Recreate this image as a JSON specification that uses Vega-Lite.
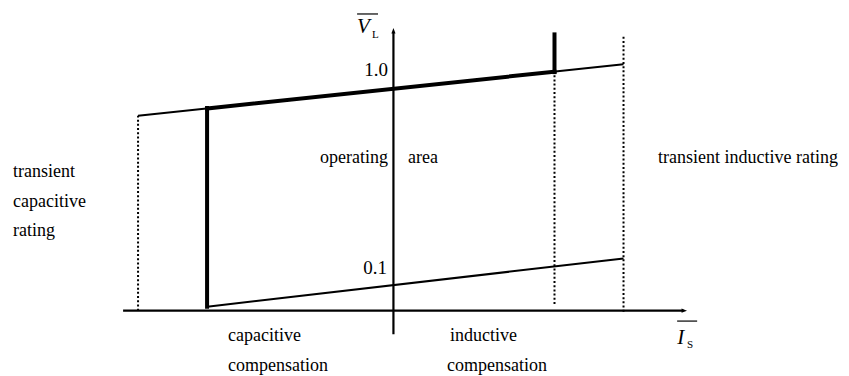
{
  "$schema": "https://vega.github.io/schema/vega-lite/v6.json",
  "width": 849,
  "height": 376,
  "autosize": {"type": "fit", "contains": "padding"},
  "padding": 0,
  "background": "white",
  "config": {"view": {"stroke": null}, "text": {"font": "Times New Roman, Liberation Serif, serif"}},
  "datasets": {
    "thinLines": [
      {"part": "upper voltage limit", "x": -1.11, "y": 0.878, "x2": 1.0, "y2": 1.11},
      {"part": "lower voltage limit", "x": -0.81, "y": 0.018, "x2": 1.0, "y2": 0.235}
    ],
    "boundary": [
      {"part": "upper edge", "x": -0.81, "y": 0.911, "x2": 0.70, "y2": 1.077},
      {"part": "capacitive limit", "x": -0.81, "y": 0.018, "x2": -0.81, "y2": 0.913},
      {"part": "inductive limit", "x": 0.70, "y": 1.075, "x2": 0.70, "y2": 1.245}
    ],
    "dotted": [
      {"part": "transient capacitive", "x": -1.11, "y": 0.0, "x2": -1.11, "y2": 0.878},
      {"part": "continuous inductive", "x": 0.70, "y": 0.03, "x2": 0.70, "y2": 1.077},
      {"part": "transient inductive", "x": 1.0, "y": -0.005, "x2": 1.0, "y2": 1.245}
    ],
    "axes": [
      {"part": "current axis", "x": -1.175, "y": 0.0, "x2": 1.26, "y2": 0.0},
      {"part": "voltage axis", "x": 0.0, "y": -0.106, "x2": 0.0, "y2": 1.255}
    ],
    "overbars": [
      {"part": "V bar", "x": -0.158, "y": 1.337, "x2": -0.067, "y2": 1.337},
      {"part": "I bar", "x": 1.233, "y": -0.047, "x2": 1.32, "y2": -0.047}
    ],
    "arrowRight": [{"x": 1.276, "y": 0.0}],
    "arrowUp": [{"x": 0.0, "y": 1.274}],
    "symbols": [
      {"label": "V", "x": -0.158, "y": 1.252},
      {"label": "I", "x": 1.233, "y": -0.151}
    ],
    "subscripts": [
      {"label": "L", "x": -0.093, "y": 1.229},
      {"label": "S", "x": 1.276, "y": -0.169}
    ],
    "ticks": [
      {"label": "1.0", "x": -0.0235, "y": 1.085},
      {"label": "0.1", "x": -0.028, "y": 0.191}
    ],
    "notes": [
      {"label": "operating", "x": -0.319, "y": 0.69},
      {"label": "area", "x": 0.063, "y": 0.69},
      {"label": "transient inductive rating", "x": 1.15, "y": 0.69},
      {"label": "transient", "x": -1.653, "y": 0.627},
      {"label": "capacitive", "x": -1.653, "y": 0.488},
      {"label": "rating", "x": -1.653, "y": 0.357},
      {"label": "capacitive", "x": -0.719, "y": -0.115},
      {"label": "compensation", "x": -0.719, "y": -0.25},
      {"label": "inductive", "x": 0.246, "y": -0.115},
      {"label": "compensation", "x": 0.233, "y": -0.25}
    ]
  },
  "layer": [
    {
      "data": {"name": "dotted"},
      "mark": {"type": "rule", "color": "black", "strokeWidth": 2, "strokeDash": [2, 2.2]},
      "encoding": {
        "x": {"field": "x", "type": "quantitative", "scale": {"domain": [-1.71, 1.98], "nice": false, "zero": false}, "axis": null},
        "y": {"field": "y", "type": "quantitative", "scale": {"domain": [-0.29, 1.4], "nice": false, "zero": false}, "axis": null},
        "x2": {"field": "x2"},
        "y2": {"field": "y2"}
      }
    },
    {
      "data": {"name": "thinLines"},
      "mark": {"type": "rule", "color": "black", "strokeWidth": 2},
      "encoding": {
        "x": {"field": "x", "type": "quantitative", "scale": {"domain": [-1.71, 1.98], "nice": false, "zero": false}, "axis": null},
        "y": {"field": "y", "type": "quantitative", "scale": {"domain": [-0.29, 1.4], "nice": false, "zero": false}, "axis": null},
        "x2": {"field": "x2"},
        "y2": {"field": "y2"}
      }
    },
    {
      "data": {"name": "axes"},
      "mark": {"type": "rule", "color": "black", "strokeWidth": 2.2},
      "encoding": {
        "x": {"field": "x", "type": "quantitative", "scale": {"domain": [-1.71, 1.98], "nice": false, "zero": false}, "axis": null},
        "y": {"field": "y", "type": "quantitative", "scale": {"domain": [-0.29, 1.4], "nice": false, "zero": false}, "axis": null},
        "x2": {"field": "x2"},
        "y2": {"field": "y2"}
      }
    },
    {
      "data": {"name": "boundary"},
      "mark": {"type": "rule", "color": "black", "strokeWidth": 4, "strokeCap": "square"},
      "encoding": {
        "x": {"field": "x", "type": "quantitative", "scale": {"domain": [-1.71, 1.98], "nice": false, "zero": false}, "axis": null},
        "y": {"field": "y", "type": "quantitative", "scale": {"domain": [-0.29, 1.4], "nice": false, "zero": false}, "axis": null},
        "x2": {"field": "x2"},
        "y2": {"field": "y2"}
      }
    },
    {
      "data": {"name": "overbars"},
      "mark": {"type": "rule", "color": "black", "strokeWidth": 1.2},
      "encoding": {
        "x": {"field": "x", "type": "quantitative", "scale": {"domain": [-1.71, 1.98], "nice": false, "zero": false}, "axis": null},
        "y": {"field": "y", "type": "quantitative", "scale": {"domain": [-0.29, 1.4], "nice": false, "zero": false}, "axis": null},
        "x2": {"field": "x2"},
        "y2": {"field": "y2"}
      }
    },
    {
      "data": {"name": "arrowRight"},
      "mark": {"type": "point", "filled": true, "color": "black", "opacity": 1, "size": 30, "shape": "M 0 0 L -2 -0.75 L -2 0.75 Z"},
      "encoding": {
        "x": {"field": "x", "type": "quantitative", "scale": {"domain": [-1.71, 1.98], "nice": false, "zero": false}, "axis": null},
        "y": {"field": "y", "type": "quantitative", "scale": {"domain": [-0.29, 1.4], "nice": false, "zero": false}, "axis": null}
      }
    },
    {
      "data": {"name": "arrowUp"},
      "mark": {"type": "point", "filled": true, "color": "black", "opacity": 1, "size": 30, "shape": "M 0 0 L -0.75 2 L 0.75 2 Z"},
      "encoding": {
        "x": {"field": "x", "type": "quantitative", "scale": {"domain": [-1.71, 1.98], "nice": false, "zero": false}, "axis": null},
        "y": {"field": "y", "type": "quantitative", "scale": {"domain": [-0.29, 1.4], "nice": false, "zero": false}, "axis": null}
      }
    },
    {
      "data": {"name": "symbols"},
      "mark": {"type": "text", "fontStyle": "italic", "fontSize": 21, "align": "left", "baseline": "alphabetic", "color": "black"},
      "encoding": {
        "x": {"field": "x", "type": "quantitative", "scale": {"domain": [-1.71, 1.98], "nice": false, "zero": false}, "axis": null},
        "y": {"field": "y", "type": "quantitative", "scale": {"domain": [-0.29, 1.4], "nice": false, "zero": false}, "axis": null},
        "text": {"field": "label"}
      }
    },
    {
      "data": {"name": "subscripts"},
      "mark": {"type": "text", "fontSize": 11, "align": "left", "baseline": "alphabetic", "color": "black"},
      "encoding": {
        "x": {"field": "x", "type": "quantitative", "scale": {"domain": [-1.71, 1.98], "nice": false, "zero": false}, "axis": null},
        "y": {"field": "y", "type": "quantitative", "scale": {"domain": [-0.29, 1.4], "nice": false, "zero": false}, "axis": null},
        "text": {"field": "label"}
      }
    },
    {
      "data": {"name": "ticks"},
      "mark": {"type": "text", "fontSize": 19, "align": "right", "baseline": "middle", "color": "black"},
      "encoding": {
        "x": {"field": "x", "type": "quantitative", "scale": {"domain": [-1.71, 1.98], "nice": false, "zero": false}, "axis": null},
        "y": {"field": "y", "type": "quantitative", "scale": {"domain": [-0.29, 1.4], "nice": false, "zero": false}, "axis": null},
        "text": {"field": "label"}
      }
    },
    {
      "data": {"name": "notes"},
      "mark": {"type": "text", "fontSize": 18, "align": "left", "baseline": "middle", "color": "black"},
      "encoding": {
        "x": {"field": "x", "type": "quantitative", "scale": {"domain": [-1.71, 1.98], "nice": false, "zero": false}, "axis": null},
        "y": {"field": "y", "type": "quantitative", "scale": {"domain": [-0.29, 1.4], "nice": false, "zero": false}, "axis": null},
        "text": {"field": "label"}
      }
    }
  ]
}
